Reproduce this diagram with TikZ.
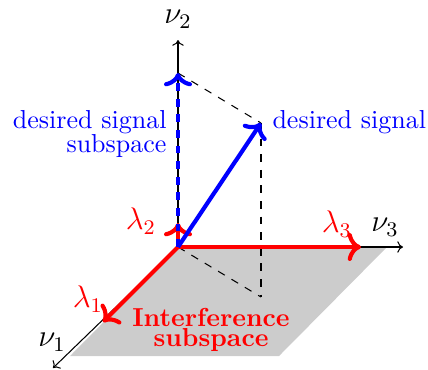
\documentclass[tikz,border=0pt]{standalone}
\usetikzlibrary{arrows.meta}
\begin{document}
\begin{tikzpicture}[x=0.3846pt, y=-0.3846pt,
  axis/.style={draw=black, line width=0.4pt, -{To[length=2.2pt,width=4.4pt]}},
  helper/.style={draw=black, line width=0.4pt, dashed},
  redvec/.style={draw=red, line width=1.6pt, ->},
  bluevec/.style={draw=blue, line width=1.6pt, ->},
  lbl/.style={inner sep=0pt, font=\normalsize},
  mlbl/.style={inner sep=0pt, font=\large}]
\useasboundingbox (0,0) rectangle (428,369);
% points
\coordinate (O) at (178,247);
\coordinate (A1) at (53,368);
\coordinate (A2) at (178,40);
\coordinate (A3) at (403,247);
\coordinate (G2) at (387,247);
\coordinate (G3) at (279,356);
\coordinate (G4) at (70,356);
\coordinate (L1) at (103,322);
\coordinate (L2) at (178,223);
\coordinate (L3) at (361,247);
\coordinate (D) at (178,73);
\coordinate (S) at (261,123);
\coordinate (F) at (261,297);
% plane
\fill[black!20] (O) -- (G2) -- (G3) -- (G4) -- cycle;
% axes
\draw[axis] (O) -- (A2);
\draw[axis] (O) -- (A3);
\draw[axis] (O) -- (A1);
% helper lines
\draw[helper] (D) -- (S);
\draw[helper] (S) -- (F);
\draw[helper] (O) -- (F);
% red vectors
\draw[redvec] (O) -- (L3);
\draw[redvec] (O) -- (L1);
\draw[redvec] (O) -- (L2);
% blue vectors
\draw[bluevec, dashed] (O) -- (D);
\draw[bluevec] (O) -- (S);
% labels
\node[mlbl] (n2) at (178,19) {$\nu_2$};
\node[mlbl] (n3) at (385,227) {$\nu_3$};
\node[mlbl] (n1) at (52,342) {$\nu_1$};
\node[mlbl, text=red] (l1) at (88,299) {$\lambda_1$};
\node[mlbl, text=red] (l2) at (141,221) {$\lambda_2$};
\node[mlbl, text=red] (l3) at (337,224) {$\lambda_3$};
\node[lbl, text=red, font=\bfseries, align=center] (isub) at (211,330) {Interference\\[-4.2pt]subspace};
\node[lbl, text=blue, align=right, anchor=east] (dsub) at (167,134) {desired signal\\[-2.4pt]subspace};
\node[lbl, text=blue, anchor=west] (dsig) at (272,122) {desired signal};
\end{tikzpicture}
\end{document}
